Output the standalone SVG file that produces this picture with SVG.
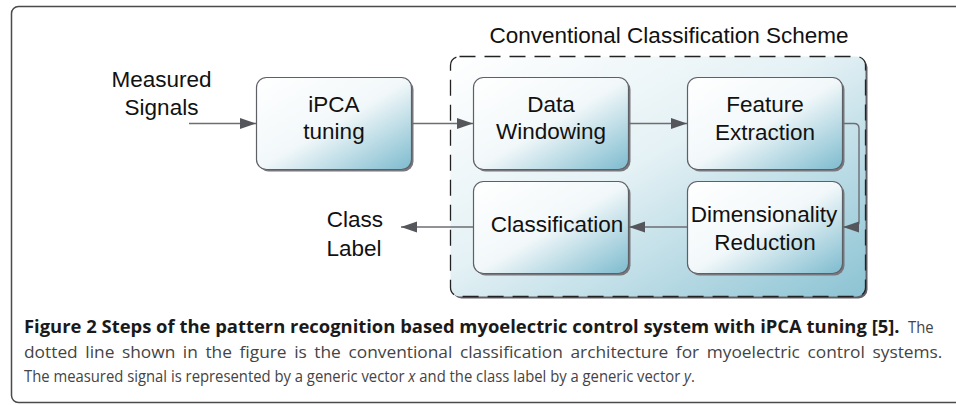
<svg xmlns="http://www.w3.org/2000/svg" width="956" height="405" viewBox="0 0 956 405">
<style>
.node{fill:url(#nodeGrad);stroke:#5f5f66;stroke-width:1.2}
.shadow{fill:#77777d}
.lbl{font-family:"Liberation Sans",Arial,sans-serif;font-size:22.5px;fill:#111;text-anchor:middle}
.conn{fill:none;stroke:#6d6d75;stroke-width:1.4}
.cap{font-family:"Open Sans","Noto Sans",sans-serif;font-size:17px}
</style>
<defs>
<linearGradient id="nodeGrad" x1="0" y1="0" x2="1" y2="1">
<stop offset="0" stop-color="#ffffff"/>
<stop offset="0.5" stop-color="#f2f8fa"/>
<stop offset="1" stop-color="#7dbbce"/>
</linearGradient>
<linearGradient id="contGrad" x1="0" y1="0" x2="1" y2="1">
<stop offset="0" stop-color="#ffffff"/>
<stop offset="0.45" stop-color="#e4f1f5"/>
<stop offset="1" stop-color="#8cc3d3"/>
</linearGradient>
<marker id="arr" markerUnits="userSpaceOnUse" markerWidth="16" markerHeight="12" refX="16" refY="5.5" orient="auto">
<path d="M0,0 L16,5.5 L0,11 z" fill="#55555c"/>
</marker>
</defs>

<rect x="11.5" y="6.5" width="960" height="396" rx="7" fill="#fff" stroke="#4a4a4a" stroke-width="1.5"/>

<g id="container">
<rect x="452.5" y="58.5" width="415" height="240" rx="9" fill="#606066"/>
<rect x="450.5" y="56.5" width="415" height="240" rx="9" fill="url(#contGrad)" stroke="#222" stroke-width="1.3" stroke-dasharray="16 9"/>
<text class="lbl" x="669" y="43">Conventional Classification Scheme</text>
</g>

<g id="measured">
<text class="lbl" x="161.5" y="87">Measured</text>
<text class="lbl" x="161.5" y="115">Signals</text>
</g>

<g id="ipca">
<rect class="shadow" x="258.5" y="79.5" width="155" height="92" rx="10"/>
<rect class="node" x="256.5" y="77.5" width="155" height="92" rx="10"/>
<text class="lbl" x="334" y="112">iPCA</text>
<text class="lbl" x="334" y="139">tuning</text>
</g>

<g id="dw">
<rect class="shadow" x="475.5" y="79.5" width="155" height="92" rx="10"/>
<rect class="node" x="473.5" y="77.5" width="155" height="92" rx="10"/>
<text class="lbl" x="551" y="112">Data</text>
<text class="lbl" x="551" y="139">Windowing</text>
</g>

<g id="fe">
<rect class="shadow" x="689.5" y="79.5" width="155" height="92" rx="10"/>
<rect class="node" x="687.5" y="77.5" width="155" height="92" rx="10"/>
<text class="lbl" x="765" y="112">Feature</text>
<text class="lbl" x="765" y="140">Extraction</text>
</g>

<g id="dr">
<rect class="shadow" x="689.5" y="183.5" width="155" height="92" rx="10"/>
<rect class="node" x="687.5" y="181.5" width="155" height="92" rx="10"/>
<text class="lbl" x="764" y="222">Dimensionality</text>
<text class="lbl" x="765" y="250">Reduction</text>
</g>

<g id="cl">
<rect class="shadow" x="475.5" y="183.5" width="155" height="92" rx="10"/>
<rect class="node" x="473.5" y="181.5" width="155" height="92" rx="10"/>
<text class="lbl" x="557" y="232">Classification</text>
</g>

<g id="classlabel">
<text class="lbl" x="355" y="227">Class</text>
<text class="lbl" x="354" y="256">Label</text>
</g>

<g id="connectors">
<line class="conn" x1="189" y1="123.5" x2="256" y2="123.5" marker-end="url(#arr)"/>
<line class="conn" x1="412" y1="123.5" x2="473" y2="123.5" marker-end="url(#arr)"/>
<line class="conn" x1="629" y1="123.5" x2="687" y2="123.5" marker-end="url(#arr)"/>
<path class="conn" d="M843,123.5 H854 Q859,123.5 859,128.5 V222 Q859,227 854,227 H843" marker-end="url(#arr)"/>
<line class="conn" x1="687" y1="227" x2="629" y2="227" marker-end="url(#arr)"/>
<line class="conn" x1="473" y1="227" x2="401" y2="227" marker-end="url(#arr)"/>
</g>

<g id="caption" transform="translate(24 0) scale(0.873 1)">
<text class="cap" x="0" y="333" font-weight="bold" fill="#1a1a1a" textLength="1003" lengthAdjust="spacingAndGlyphs">Figure 2 Steps of the pattern recognition based myoelectric control system with iPCA tuning [5].</text>
<text class="cap" x="1042" y="333" fill="#444" text-anchor="end">The</text>
<text class="cap" x="0" y="358" fill="#444" word-spacing="3" textLength="1052" lengthAdjust="spacingAndGlyphs">dotted line shown in the figure is the conventional classification architecture for myoelectric control systems.</text>
<text class="cap" x="0" y="382" fill="#444">The measured signal is represented by a generic vector <tspan font-style="italic">x</tspan> and the class label by a generic vector <tspan font-style="italic">y</tspan>.</text>
</g>
</svg>
